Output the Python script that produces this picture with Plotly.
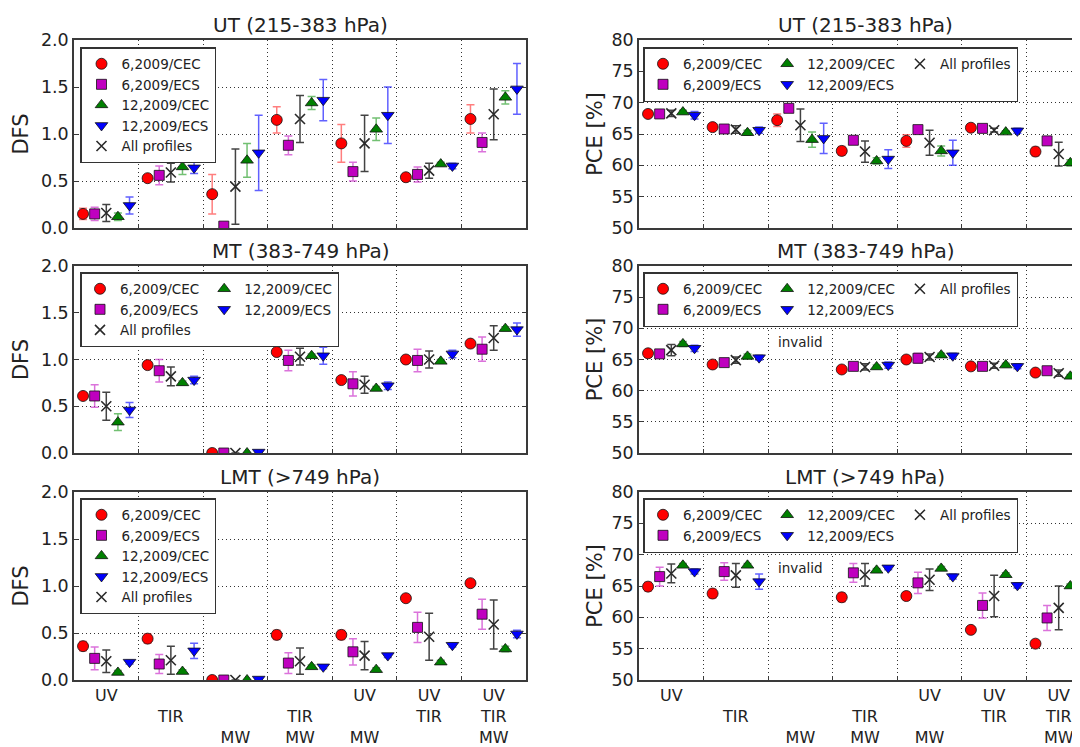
import plotly.graph_objects as go

# ---------------- data ----------------
categories = ["UV", "TIR", "MW", "TIR MW", "UV MW", "UV TIR", "UV TIR MW"]
tick_labels = ["UV", " <br>TIR", " <br> <br>MW", " <br>TIR<br>MW",
               "UV<br> <br>MW", "UV<br>TIR", "UV<br>TIR<br>MW"]
series_names = ["6,2009/CEC", "6,2009/ECS", "12,2009/CEC", "12,2009/ECS", "All profiles"]
panel_titles = ["UT (215-383 hPa)", "MT (383-749 hPa)", "LMT (>749 hPa)"]
invalid_label = "invalid"

# DFS, UT
ut_dfs = {
    "6,2009/CEC": [0.15, 0.53, 0.36, 1.15, 0.90, 0.54, 1.16],
    "6,2009/ECS": [0.15, 0.56, 0.02, 0.88, 0.60, 0.57, 0.91],
    "12,2009/CEC": [0.12, 0.65, 0.72, 1.33, 1.05, 0.68, 1.39],
    "12,2009/ECS": [0.24, 0.64, 0.80, 1.36, 1.20, 0.66, 1.48],
    "All profiles": [0.16, 0.59, 0.44, 1.16, 0.90, 0.61, 1.21],
}
ut_dfs_err = {
    "6,2009/CEC": [0.06, 0.02, 0.21, 0.14, 0.20, 0.02, 0.15],
    "6,2009/ECS": [0.07, 0.10, 0.02, 0.10, 0.10, 0.08, 0.10],
    "12,2009/CEC": [0.04, 0.08, 0.18, 0.07, 0.12, 0.02, 0.07],
    "12,2009/ECS": [0.09, 0.06, 0.40, 0.22, 0.30, 0.03, 0.27],
    "All profiles": [0.09, 0.10, 0.40, 0.25, 0.30, 0.08, 0.27],
}
# DFS, MT
mt_dfs = {
    "6,2009/CEC": [0.61, 0.94, 0.00, 1.08, 0.78, 1.00, 1.17],
    "6,2009/ECS": [0.61, 0.88, 0.00, 0.99, 0.74, 0.99, 1.11],
    "12,2009/CEC": [0.33, 0.75, 0.00, 1.04, 0.69, 0.98, 1.33],
    "12,2009/ECS": [0.46, 0.78, 0.01, 1.04, 0.72, 1.06, 1.32],
    "All profiles": [0.50, 0.82, 0.00, 1.03, 0.73, 1.00, 1.23],
}
mt_dfs_err = {
    "6,2009/CEC": [0.02, 0.02, 0.00, 0.02, 0.02, 0.02, 0.02],
    "6,2009/ECS": [0.12, 0.12, 0.00, 0.11, 0.13, 0.12, 0.13],
    "12,2009/CEC": [0.09, 0.02, 0.00, 0.02, 0.02, 0.02, 0.02],
    "12,2009/ECS": [0.08, 0.04, 0.00, 0.09, 0.04, 0.04, 0.07],
    "All profiles": [0.15, 0.10, 0.00, 0.09, 0.09, 0.09, 0.13],
}
# DFS, LMT
lmt_dfs = {
    "6,2009/CEC": [0.36, 0.44, 0.00, 0.48, 0.48, 0.87, 1.03],
    "6,2009/ECS": [0.23, 0.17, 0.00, 0.18, 0.30, 0.56, 0.70],
    "12,2009/CEC": [0.08, 0.09, 0.00, 0.14, 0.11, 0.19, 0.33],
    "12,2009/ECS": [0.19, 0.31, 0.01, 0.14, 0.26, 0.37, 0.49],
    "All profiles": [0.20, 0.21, 0.00, 0.20, 0.26, 0.46, 0.59],
}
lmt_dfs_err = {
    "6,2009/CEC": [0.05, 0.05, 0.00, 0.05, 0.05, 0.01, 0.01],
    "6,2009/ECS": [0.12, 0.10, 0.00, 0.11, 0.14, 0.16, 0.16],
    "12,2009/CEC": [0.02, 0.02, 0.00, 0.02, 0.02, 0.02, 0.03],
    "12,2009/ECS": [0.02, 0.08, 0.00, 0.02, 0.02, 0.02, 0.04],
    "All profiles": [0.12, 0.15, 0.00, 0.14, 0.15, 0.25, 0.26],
}
# PCE, UT
ut_pce = {
    "6,2009/CEC": [68.2, 66.1, 67.2, 62.3, 63.9, 66.0, 62.2],
    "6,2009/ECS": [68.2, 65.8, 69.1, 64.0, 65.7, 65.9, 63.9],
    "12,2009/CEC": [68.5, 65.2, 64.1, 60.7, 62.3, 65.3, 60.4],
    "12,2009/ECS": [68.0, 65.6, 64.3, 61.0, 62.0, 65.5, 60.3],
    "All profiles": [68.3, 65.7, 66.4, 62.2, 63.6, 65.6, 61.8],
}
ut_pce_err = {
    "6,2009/CEC": [0.3, 0.3, 1.0, 0.7, 1.0, 0.2, 0.7],
    "6,2009/ECS": [0.2, 0.2, 0.2, 0.2, 0.2, 0.2, 0.2],
    "12,2009/CEC": [0.3, 0.4, 1.2, 0.5, 0.8, 0.2, 0.5],
    "12,2009/ECS": [0.6, 0.5, 2.4, 1.5, 2.0, 0.4, 1.7],
    "All profiles": [0.5, 0.6, 2.6, 1.7, 2.0, 0.3, 1.9],
}
# PCE, MT (MW invalid)
mt_pce = {
    "6,2009/CEC": [66.0, 64.2, None, 63.4, 65.0, 63.9, 62.9],
    "6,2009/ECS": [65.9, 64.5, None, 63.9, 65.2, 63.9, 63.2],
    "12,2009/CEC": [67.5, 65.5, None, 63.8, 65.7, 64.1, 62.3],
    "12,2009/ECS": [66.8, 65.3, None, 64.1, 65.6, 63.9, 62.4],
    "All profiles": [66.5, 64.9, None, 63.8, 65.4, 64.0, 62.8],
}
mt_pce_err = {
    "6,2009/CEC": [0.3, 0.3, 0.0, 0.3, 0.3, 0.3, 0.3],
    "6,2009/ECS": [0.3, 0.3, 0.0, 0.3, 0.8, 0.5, 0.3],
    "12,2009/CEC": [0.4, 0.4, 0.0, 0.3, 0.3, 0.3, 0.3],
    "12,2009/ECS": [0.5, 0.4, 0.0, 0.5, 0.4, 0.4, 0.4],
    "All profiles": [0.9, 0.5, 0.0, 0.5, 0.5, 0.4, 0.5],
}
# PCE, LMT (MW invalid)
lmt_pce = {
    "6,2009/CEC": [64.9, 63.8, None, 63.2, 63.4, 58.0, 55.8],
    "6,2009/ECS": [66.5, 67.3, None, 67.1, 65.5, 61.9, 59.9],
    "12,2009/CEC": [68.3, 68.3, None, 67.5, 67.8, 66.8, 65.0],
    "12,2009/ECS": [67.3, 65.7, None, 67.9, 66.5, 65.1, 64.0],
    "All profiles": [67.0, 66.7, None, 66.8, 66.0, 63.4, 61.5],
}
lmt_pce_err = {
    "6,2009/CEC": [0.7, 0.7, 0.0, 0.7, 0.6, 0.2, 0.2],
    "6,2009/ECS": [1.5, 1.4, 0.0, 1.5, 1.7, 2.0, 2.0],
    "12,2009/CEC": [0.3, 0.3, 0.0, 0.3, 0.3, 0.3, 0.3],
    "12,2009/ECS": [0.4, 1.2, 0.0, 0.3, 0.4, 0.4, 0.7],
    "All profiles": [1.5, 1.9, 0.0, 1.8, 1.7, 3.3, 3.5],
}

# ---------------- styles / layout ----------------
FONT = "DejaVu Sans"
TXT = "#222222"
FRAME = "#3a3a3a"
VIEW_W, VIEW_H = 1080, 747
OFF = 8                      # page body margin
W, H = VIEW_W - OFF, VIEW_H - OFF


def fx(s):
    return (s - OFF) / W


def fy(s):
    return 1 - (s - OFF) / H


styles = {
    "6,2009/CEC": dict(symbol="circle", color="#ff0000", err="rgba(255,40,40,0.6)", size=11, slot=0),
    "6,2009/ECS": dict(symbol="square", color="#bf00bf", err="rgba(200,40,200,0.65)", size=10, slot=1),
    "All profiles": dict(symbol="x-thin", color="#2a2a2a", err="rgba(20,20,20,0.8)", size=10, slot=2),
    "12,2009/CEC": dict(symbol="triangle-up", color="#008000", err="rgba(20,150,20,0.6)", size=11, slot=3),
    "12,2009/ECS": dict(symbol="triangle-down", color="#0000ff", err="rgba(30,30,255,0.7)", size=11, slot=4),
}
slot_offsets = [-0.36, -0.18, 0.0, 0.18, 0.36]

left_px = (74, 526)
right_left_px = 639
group_px = (left_px[1] - left_px[0]) / len(categories)
right_xmax = (VIEW_W - right_left_px) / group_px
rows_px = [(40, 228), (266, 453), (492, 680)]
legend_top_px = [47, 272, 498]

panels = [
    (0, 0, ut_dfs, ut_dfs_err), (0, 1, ut_pce, ut_pce_err),
    (1, 0, mt_dfs, mt_dfs_err), (1, 1, mt_pce, mt_pce_err),
    (2, 0, lmt_dfs, lmt_dfs_err), (2, 1, lmt_pce, lmt_pce_err),
]

legend_groups = {
    (0, 0): None,
    (1, 0): {"6,2009/CEC": "a", "6,2009/ECS": "a", "All profiles": "a",
             "12,2009/CEC": "b", "12,2009/ECS": "b"},
    (2, 0): None,
    (0, 1): {"6,2009/CEC": "a", "6,2009/ECS": "a", "12,2009/CEC": "b",
             "12,2009/ECS": "b", "All profiles": "c"},
    (1, 1): {"6,2009/CEC": "a", "6,2009/ECS": "a", "12,2009/CEC": "b",
             "12,2009/ECS": "b", "All profiles": "c"},
    (2, 1): {"6,2009/CEC": "a", "6,2009/ECS": "a", "12,2009/CEC": "b",
             "12,2009/ECS": "b", "All profiles": "c"},
}

GRID = dict(showgrid=True, gridcolor="#333333", griddash="1px,3px", gridwidth=1)

fig = go.Figure()
layout = dict(
    width=W, height=H, margin=dict(l=0, r=0, t=0, b=0, autoexpand=False),
    paper_bgcolor="white", plot_bgcolor="white",
    font=dict(family=FONT, color=TXT), showlegend=True,
)
annotations = []

for r, c, vals, errs in panels:
    n = r * 2 + c + 1
    xa = "x" if n == 1 else f"x{n}"
    ya = "y" if n == 1 else f"y{n}"
    lg = "legend" if n == 1 else f"legend{n}"
    groups = legend_groups[(r, c)]
    for name in series_names:
        st = styles[name]
        xs = [i + 0.5 + slot_offsets[st["slot"]] for i in range(len(categories))]
        is_x = st["symbol"] == "x-thin"
        marker = dict(symbol=st["symbol"], size=st["size"], color=st["color"],
                      line=dict(color=st["color"] if is_x else "#111111",
                                width=1.6 if is_x else 0.8))
        tr = go.Scatter(
            x=xs, y=vals[name], mode="markers", name=name,
            marker=marker, xaxis=xa, yaxis=ya, legend=lg,
            error_y=dict(type="data", array=errs[name], visible=True,
                         color=st["err"], thickness=1.5, width=4),
        )
        if groups:
            tr.legendgroup = f"{n}{groups[name]}"
        fig.add_trace(tr)

    if c == 0:
        xdom = [fx(left_px[0]), fx(left_px[1])]
        xrange = [0, len(categories)]
    else:
        xdom = [fx(right_left_px), 1.0]
        xrange = [0, right_xmax]
    top, bot = rows_px[r]
    ydom = [fy(bot), fy(top)]
    xaxis = dict(
        domain=xdom, range=xrange, anchor=ya, automargin=False,
        tickmode="array", tickvals=[i + 0.5 for i in range(len(categories))],
        ticktext=tick_labels, showticklabels=(r == 2), ticks="",
        tickfont=dict(size=16, family=FONT, color=TXT),
        showgrid=False, zeroline=False,
        showline=True, linecolor=FRAME, linewidth=1.5, mirror=True,
        minor=dict(tickmode="array", tickvals=list(range(1, len(categories))),
                   ticks="inside", ticklen=4, tickcolor=FRAME, **GRID),
        fixedrange=True,
    )
    if c == 0:
        yaxis = dict(range=[0, 2], dtick=0.5, tick0=0, tickformat=".1f",
                     title=dict(text="DFS", font=dict(size=21, family=FONT, color=TXT), standoff=7))
    else:
        yaxis = dict(range=[50, 80], dtick=5, tick0=50,
                     title=dict(text="PCE [%]", font=dict(size=21, family=FONT, color=TXT), standoff=3))
    yaxis.update(
        domain=ydom, anchor=xa, automargin=False, ticks="inside", ticklen=4, tickcolor=FRAME,
        tickfont=dict(size=17.5, family=FONT, color=TXT),
        zeroline=False, showline=True, linecolor=FRAME, linewidth=1.5,
        mirror=("ticks" if c == 0 else False), fixedrange=True, **GRID,
    )
    layout["xaxis" if n == 1 else f"xaxis{n}"] = xaxis
    layout["yaxis" if n == 1 else f"yaxis{n}"] = yaxis

    layout[lg] = dict(
        x=fx(80 if c == 0 else 643), y=fy(legend_top_px[r]),
        xanchor="left", yanchor="top", xref="paper", yref="paper",
        orientation=("v" if groups is None else "h"),
        bgcolor="white", bordercolor="#333333", borderwidth=1.5,
        font=dict(size=13.5, family=FONT, color=TXT),
        tracegroupgap=0, itemsizing="trace",
    )

    xcen = (left_px[0] + left_px[1]) / 2 if c == 0 else right_left_px + group_px * len(categories) / 2
    annotations.append(dict(
        text=panel_titles[r], x=fx(xcen), y=fy(top - 15), xref="paper", yref="paper",
        xanchor="center", yanchor="middle", showarrow=False,
        font=dict(size=20, family=FONT, color=TXT),
    ))
    if c == 1 and any(v is None for v in vals[series_names[0]]):
        k = [v is None for v in vals[series_names[0]]].index(True)
        annotations.append(dict(
            text=invalid_label, x=k + 0.5, y=67.8, xref=xa, yref=ya,
            showarrow=False, font=dict(size=13.5, family=FONT, color=TXT),
        ))

layout["annotations"] = annotations
fig.update_layout(**layout)
fig.write_html("out.html")
